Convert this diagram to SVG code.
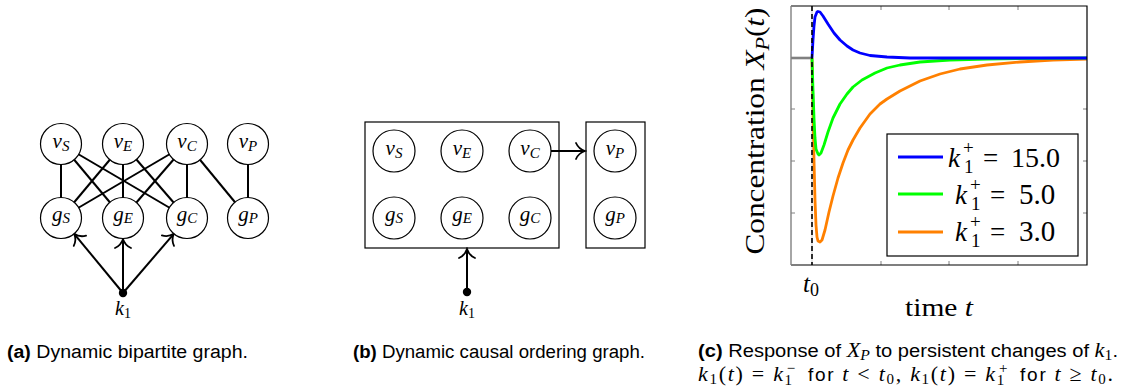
<svg xmlns="http://www.w3.org/2000/svg" width="1132" height="391" viewBox="0 0 1132 391">
<defs>
<style>
.node{fill:#fff;stroke:#000;stroke-width:1.2}
.edge{stroke:#000;stroke-width:2;fill:none}
.arr{stroke:#000;stroke-width:2;fill:none;marker-end:url(#to)}
.m{font-family:"Liberation Serif",serif;font-style:italic;fill:#000}
.mr{font-family:"Liberation Serif",serif;font-style:normal}
.cap{font-family:"Liberation Sans","DejaVu Sans",sans-serif;font-size:18px;fill:#000}
.box{fill:none;stroke:#000;stroke-width:1.2}
.tick{stroke:#808080;stroke-width:1}
</style>
<marker id="to" viewBox="-11 -10 13 20" refX="0" refY="0" markerWidth="13" markerHeight="20" markerUnits="userSpaceOnUse" orient="auto">
<path d="M-9,-8 C-7,-3.5 -3,-0.9 0,0 C-3,0.9 -7,3.5 -9,8" fill="none" stroke="#000" stroke-width="1.8" stroke-linecap="round"/>
</marker>
</defs>
<rect width="1132" height="391" fill="#fff"/>

<!-- Panel (a) -->
<g id="a-connectors">
<line class="edge" x1="61" y1="144" x2="61" y2="218"/>
<line class="edge" x1="61" y1="144" x2="123" y2="218"/>
<line class="edge" x1="61" y1="144" x2="187" y2="218"/>
<line class="edge" x1="123" y1="144" x2="61" y2="218"/>
<line class="edge" x1="123" y1="144" x2="123" y2="218"/>
<line class="edge" x1="123" y1="144" x2="187" y2="218"/>
<line class="edge" x1="187" y1="144" x2="61" y2="218"/>
<line class="edge" x1="187" y1="144" x2="123" y2="218"/>
<line class="edge" x1="187" y1="144" x2="187" y2="218"/>
<line class="edge" x1="187" y1="144" x2="248" y2="218"/>
<line class="edge" x1="248" y1="144" x2="248" y2="218"/>
<line class="arr" x1="123" y1="293" x2="74.2" y2="233.8"/>
<line class="arr" x1="123" y1="293" x2="123" y2="239"/>
<line class="arr" x1="123" y1="293" x2="173.8" y2="233.8"/>
</g>
<g id="a-vS"><circle class="node" cx="61" cy="144" r="20.5"/><text class="m" font-size="21" x="61" y="148" text-anchor="middle">v<tspan font-size="15" dy="3">S</tspan></text></g>
<g id="a-vE"><circle class="node" cx="123" cy="144" r="20.5"/><text class="m" font-size="21" x="123" y="148" text-anchor="middle">v<tspan font-size="15" dy="3">E</tspan></text></g>
<g id="a-vC"><circle class="node" cx="187" cy="144" r="20.5"/><text class="m" font-size="21" x="187" y="148" text-anchor="middle">v<tspan font-size="15" dy="3">C</tspan></text></g>
<g id="a-vP"><circle class="node" cx="248" cy="144" r="20.5"/><text class="m" font-size="21" x="248" y="148" text-anchor="middle">v<tspan font-size="15" dy="3">P</tspan></text></g>
<g id="a-gS"><circle class="node" cx="61" cy="218" r="20.5"/><text class="m" font-size="21" x="61" y="221" text-anchor="middle">g<tspan font-size="15" dy="2">S</tspan></text></g>
<g id="a-gE"><circle class="node" cx="123" cy="218" r="20.5"/><text class="m" font-size="21" x="123" y="221" text-anchor="middle">g<tspan font-size="15" dy="2">E</tspan></text></g>
<g id="a-gC"><circle class="node" cx="187" cy="218" r="20.5"/><text class="m" font-size="21" x="187" y="221" text-anchor="middle">g<tspan font-size="15" dy="2">C</tspan></text></g>
<g id="a-gP"><circle class="node" cx="248" cy="218" r="20.5"/><text class="m" font-size="21" x="248" y="221" text-anchor="middle">g<tspan font-size="15" dy="2">P</tspan></text></g>
<g id="a-k1"><circle cx="123" cy="293" r="4.2" fill="#000"/><text class="m" x="123" y="315" text-anchor="middle" font-size="20">k<tspan class="mr" font-size="14" dy="3">1</tspan></text></g>

<!-- Panel (b) -->
<g id="b-connectors">
<line class="arr" x1="551" y1="151" x2="585" y2="151"/>
<line class="arr" x1="467" y1="292" x2="467" y2="249"/>
</g>
<g id="b-box1"><rect class="box" x="365" y="122" width="194" height="126"/></g>
<g id="b-box2"><rect class="box" x="586" y="122" width="59" height="126"/></g>
<g id="b-vS"><circle class="node" cx="394" cy="151" r="21"/><text class="m" font-size="21" x="394" y="155" text-anchor="middle">v<tspan font-size="15" dy="3">S</tspan></text></g>
<g id="b-vE"><circle class="node" cx="462" cy="151" r="21"/><text class="m" font-size="21" x="462" y="155" text-anchor="middle">v<tspan font-size="15" dy="3">E</tspan></text></g>
<g id="b-vC"><circle class="node" cx="530" cy="151" r="21"/><text class="m" font-size="21" x="530" y="155" text-anchor="middle">v<tspan font-size="15" dy="3">C</tspan></text></g>
<g id="b-vP"><circle class="node" cx="615" cy="151" r="21"/><text class="m" font-size="21" x="615" y="155" text-anchor="middle">v<tspan font-size="15" dy="3">P</tspan></text></g>
<g id="b-gS"><circle class="node" cx="394" cy="218" r="21"/><text class="m" font-size="21" x="394" y="221" text-anchor="middle">g<tspan font-size="15" dy="2">S</tspan></text></g>
<g id="b-gE"><circle class="node" cx="462" cy="218" r="21"/><text class="m" font-size="21" x="462" y="221" text-anchor="middle">g<tspan font-size="15" dy="2">E</tspan></text></g>
<g id="b-gC"><circle class="node" cx="530" cy="218" r="21"/><text class="m" font-size="21" x="530" y="221" text-anchor="middle">g<tspan font-size="15" dy="2">C</tspan></text></g>
<g id="b-gP"><circle class="node" cx="615" cy="218" r="21"/><text class="m" font-size="21" x="615" y="221" text-anchor="middle">g<tspan font-size="15" dy="2">P</tspan></text></g>
<g id="b-k1"><circle cx="467" cy="292" r="4.2" fill="#000"/><text class="m" x="467" y="315" text-anchor="middle" font-size="20">k<tspan class="mr" font-size="14" dy="3">1</tspan></text></g>

<!-- Panel (c) plot -->
<g id="c-plot">
<line class="tick" x1="881" y1="6" x2="881" y2="10"/>
<line class="tick" x1="949" y1="6" x2="949" y2="10"/>
<line class="tick" x1="1018" y1="6" x2="1018" y2="10"/>
<line class="tick" x1="881" y1="265" x2="881" y2="261"/>
<line class="tick" x1="949" y1="265" x2="949" y2="261"/>
<line class="tick" x1="1018" y1="265" x2="1018" y2="261"/>
<line class="tick" x1="791" y1="109" x2="795" y2="109"/>
<line class="tick" x1="791" y1="161" x2="795" y2="161"/>
<line class="tick" x1="791" y1="213" x2="795" y2="213"/>
<line class="tick" x1="1087" y1="109" x2="1083" y2="109"/>
<line class="tick" x1="1087" y1="161" x2="1083" y2="161"/>
<line class="tick" x1="1087" y1="213" x2="1083" y2="213"/>
<line x1="812" y1="6" x2="812" y2="265" stroke="#e6e6e6" stroke-width="2"/>
<line x1="791" y1="58" x2="812" y2="58" stroke="#808080" stroke-width="2.6"/>
<polyline fill="none" stroke="#ff8000" stroke-width="2.8" stroke-linejoin="round" points="812,58 813,110 814,160 815,200 816,225 817,237 818,241 820,242 822,240 825,230 829,212 833,196 838,178 843,163 848,150 853,140 860,128 870,114 880,104 887,99 900,91 920,81 940,74 960,69 987,65 1020,62 1053,60 1087,59"/>
<polyline fill="none" stroke="#00ff00" stroke-width="2.8" stroke-linejoin="round" points="812,58 813,90 814,118 815,138 816,149 818,154 819,155 821,153 824,145 828,132 833,118 840,104 847,94 853,87 862,80 875,73 887,68 900,65 920,62 950,60 987,59 1087,58"/>
<polyline fill="none" stroke="#0000ff" stroke-width="2.8" stroke-linejoin="round" points="812,58 813,40 814,26 815,17 817,12 818,11.5 820,12 823,16 828,24 834,33 840,40 847,46 853,50 860,53 870,55.5 887,57 910,58 1087,58"/>
<line x1="812" y1="6" x2="812" y2="265" stroke="#000" stroke-width="1.6" stroke-dasharray="5,3"/>
<path d="M791,6 H1087 V265 H791" fill="none" stroke="#000" stroke-width="1.2"/>
<line x1="791" y1="6" x2="791" y2="265" stroke="#808080" stroke-width="1.4"/>
<text class="m" x="811" y="292" text-anchor="middle" font-size="25">t<tspan class="mr" font-size="18" dy="4">0</tspan></text>
<text class="m" x="939" y="316" text-anchor="middle" font-size="26" textLength="68" lengthAdjust="spacingAndGlyphs"><tspan class="mr">time </tspan>t</text>
<text class="m" font-size="27" text-anchor="middle" transform="translate(764,131) rotate(-90)" textLength="247" lengthAdjust="spacingAndGlyphs"><tspan class="mr">Concentration </tspan>X<tspan font-size="19" dy="5">P</tspan><tspan class="mr" dy="-5">(</tspan>t<tspan class="mr">)</tspan></text>
</g>
<g id="c-legend">
<rect x="887" y="134" width="191" height="122" fill="#fff" stroke="#000" stroke-width="1.2"/>
<line x1="898" y1="157" x2="943" y2="157" stroke="#0000ff" stroke-width="2.8"/>
<line x1="898" y1="194" x2="943" y2="194" stroke="#00ff00" stroke-width="2.8"/>
<line x1="898" y1="232" x2="943" y2="232" stroke="#ff8000" stroke-width="2.8"/>
<text class="m" font-size="27" x="948" y="167">k<tspan class="mr" font-size="19" x="964" y="173">1</tspan><tspan class="mr" font-size="19" x="963" y="154">+</tspan><tspan class="mr" x="983" y="167">=</tspan><tspan class="mr" font-size="28" x="1011" y="167">15.0</tspan></text>
<text class="m" font-size="27" x="955" y="204">k<tspan class="mr" font-size="19" x="971" y="210">1</tspan><tspan class="mr" font-size="19" x="970" y="191">+</tspan><tspan class="mr" x="990" y="204">=</tspan><tspan class="mr" font-size="29" x="1019" y="204">5.0</tspan></text>
<text class="m" font-size="27" x="955" y="241">k<tspan class="mr" font-size="19" x="971" y="247">1</tspan><tspan class="mr" font-size="19" x="970" y="228">+</tspan><tspan class="mr" x="990" y="241">=</tspan><tspan class="mr" font-size="29" x="1019" y="241">3.0</tspan></text>
</g>

<!-- Captions -->
<g id="captions">
<text class="cap" x="7" y="358" textLength="241" lengthAdjust="spacingAndGlyphs"><tspan font-weight="bold">(a)</tspan> Dynamic bipartite graph.</text>
<text class="cap" x="353" y="358" textLength="292" lengthAdjust="spacingAndGlyphs"><tspan font-weight="bold">(b)</tspan> Dynamic causal ordering graph.</text>
<text class="cap" x="698" y="357" textLength="420" lengthAdjust="spacingAndGlyphs"><tspan font-weight="bold">(c)</tspan> Response of <tspan class="m" font-size="20">X</tspan><tspan class="m" font-size="14" dy="3">P</tspan><tspan dy="-3"> to persistent changes of </tspan><tspan class="m" font-size="20">k</tspan><tspan class="mr" font-size="14" dy="3">1</tspan><tspan dy="-3">.</tspan></text>
<text class="cap" font-size="19" x="698" y="381" textLength="415" lengthAdjust="spacing"><tspan class="m" font-size="22">k</tspan><tspan class="mr" font-size="15" dy="3">1</tspan><tspan class="mr" font-size="22" dy="-3">(</tspan><tspan class="m" font-size="22">t</tspan><tspan class="mr" font-size="22">) = </tspan><tspan class="m" font-size="22">k</tspan><tspan class="mr" font-size="15" dy="4">1</tspan><tspan class="mr" font-size="15" dx="-7" dy="-12">−</tspan><tspan dy="8" dx="4" font-size="19"> for </tspan><tspan class="m" font-size="22">t</tspan><tspan class="mr" font-size="22"> &lt; </tspan><tspan class="m" font-size="22">t</tspan><tspan class="mr" font-size="15" dy="3">0</tspan><tspan class="mr" font-size="22" dy="-3">, </tspan><tspan class="m" font-size="22">k</tspan><tspan class="mr" font-size="15" dy="3">1</tspan><tspan class="mr" font-size="22" dy="-3">(</tspan><tspan class="m" font-size="22">t</tspan><tspan class="mr" font-size="22">) = </tspan><tspan class="m" font-size="22">k</tspan><tspan class="mr" font-size="15" dy="4">1</tspan><tspan class="mr" font-size="15" dx="-7" dy="-12">+</tspan><tspan dy="8" dx="4" font-size="19"> for </tspan><tspan class="m" font-size="22">t</tspan><tspan class="mr" font-size="22"> ≥ </tspan><tspan class="m" font-size="22">t</tspan><tspan class="mr" font-size="15" dy="3">0</tspan><tspan class="mr" font-size="22" dy="-3">.</tspan></text>
</g>
</svg>
